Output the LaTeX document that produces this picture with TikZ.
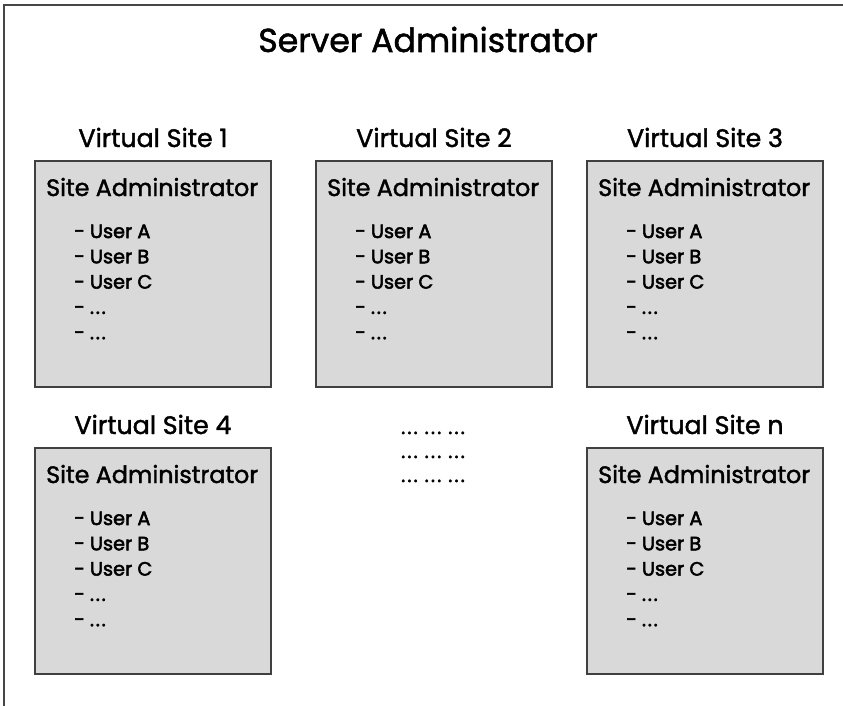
\documentclass[tikz,border=0pt]{standalone}
\usepackage{fontspec}
\setmainfont{Poppins}
\newfontfamily\titlefam[FakeBold=1.6]{Poppins}
\newfontfamily\userfam[FakeBold=2.6]{Poppins}
\newcommand{\dotgrp}{.\kern2.2pt.\kern2.2pt.}
\newcommand{\udots}{.\kern1.8pt.\kern1.8pt.}
\definecolor{boxfill}{RGB}{217,217,217}
\definecolor{boxline}{RGB}{64,64,64}
\definecolor{frameline}{RGB}{70,70,70}
\tikzset{
  sitebox/.style={draw=boxline, fill=boxfill, line width=1.3pt, minimum width=236pt, minimum height=226pt, anchor=north west, inner sep=0pt, outer sep=0pt},
  titletext/.style={font=\titlefam\fontsize{33.2}{38}\selectfont, anchor=base, inner sep=0pt},
  sitelabel/.style={font=\titlefam\fontsize{25.3}{28}\selectfont, anchor=base, inner sep=0pt},
  admintext/.style={font=\titlefam\fontsize{23.8}{28}\selectfont, anchor=base west, inner sep=0pt},
  usertext/.style={font=\userfam\fontsize{19.3}{22}\selectfont, anchor=base west, inner sep=0pt},
  dotstext/.style={font=\userfam\fontsize{19.3}{22}\selectfont, anchor=base, inner sep=0pt},
  frame/.style={draw=frameline, line width=1.5pt}
}
\begin{document}
\begin{tikzpicture}[x=1pt, y=-1pt]
\useasboundingbox (0,0) rectangle (843,706);
\draw[frame] (4,710) -- (4,5) -- (845,5);
\node[titletext] (title) at (428,52) {Server Administrator};
\foreach \n/\x/\y/\lab in {s1/35/161/1, s2/316/161/2, s3/587/161/3, s4/35/448/4, sn/587/448/n} {
  \node[sitebox] (\n) at (\x,\y) {};
  \node[sitelabel] (\n-lab) at ([yshift=14pt]\n.north) {Virtual Site \lab};
  \node[admintext] (\n-adm) at ([xshift=11pt,yshift=-35pt]\n.north west) {Site Administrator};
  \node[usertext] (\n-ua) at ([xshift=39pt,yshift=-77pt]\n.north west) {- User A};
  \node[usertext] (\n-ub) at ([xshift=39pt,yshift=-102.3pt]\n.north west) {- User B};
  \node[usertext] (\n-uc) at ([xshift=39pt,yshift=-127.6pt]\n.north west) {- User C};
  \node[usertext] (\n-ud) at ([xshift=39pt,yshift=-152.9pt]\n.north west) {- \udots};
  \node[usertext] (\n-ue) at ([xshift=39pt,yshift=-178.2pt]\n.north west) {- \udots};
}
\node[dotstext] (m1) at (433,434) {\dotgrp\kern7pt\dotgrp\kern7pt\dotgrp};
\node[dotstext] (m2) at (433,458) {\dotgrp\kern7pt\dotgrp\kern7pt\dotgrp};
\node[dotstext] (m3) at (433,482) {\dotgrp\kern7pt\dotgrp\kern7pt\dotgrp};
\end{tikzpicture}
\end{document}
